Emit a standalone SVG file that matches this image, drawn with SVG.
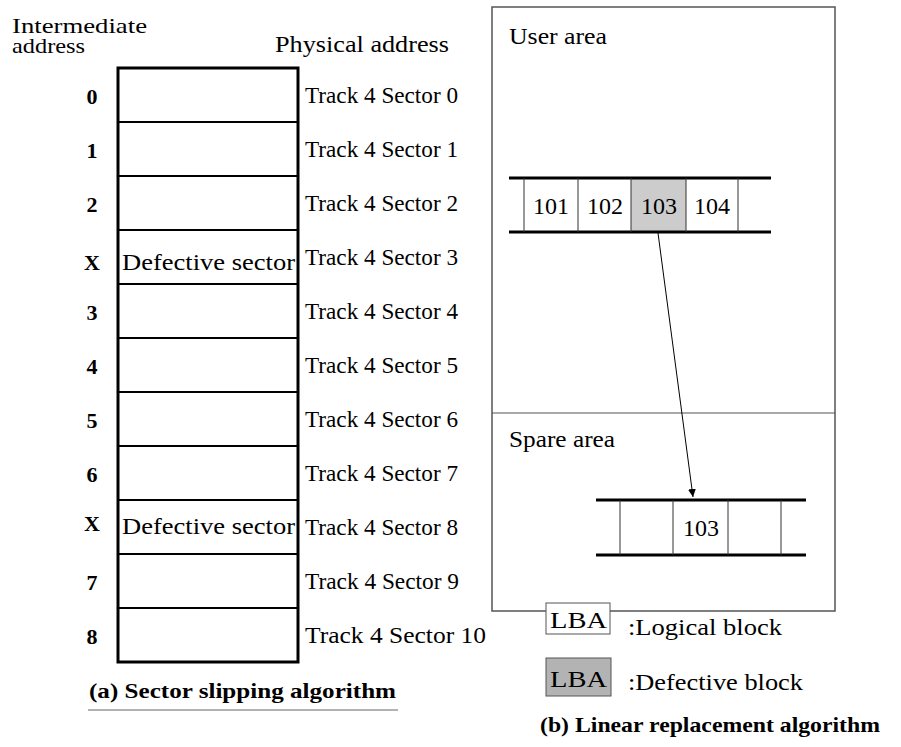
<svg xmlns="http://www.w3.org/2000/svg" width="901" height="747" viewBox="0 0 901 747" font-family="'Liberation Serif', 'Times New Roman', 'DejaVu Serif', serif">
<style>
text{font-family:'Liberation Serif','Times New Roman','DejaVu Serif',serif;fill:#000}
.t{font-size:24px}
.h{font-size:21px}
.b{font-size:22px;font-weight:bold}
.trk{stroke:#000;stroke-width:3}
.div{stroke:#333;stroke-width:1}
</style>
<defs>
<marker id="ah" viewBox="0 0 10 10" refX="10" refY="5" markerWidth="8" markerHeight="11" orient="auto" markerUnits="userSpaceOnUse"><path d="M0,0 L10,5 L0,10 z" fill="#000"/></marker>
</defs>
<g id="left-headers">
<text class="h" x="12" y="33" textLength="135" lengthAdjust="spacingAndGlyphs">Intermediate</text>
<text class="h" x="12" y="53" textLength="73" lengthAdjust="spacingAndGlyphs">address</text>
<text class="t" x="275" y="52" textLength="174" lengthAdjust="spacingAndGlyphs">Physical address</text>
</g>
<g id="sector-table">
<rect x="118" y="68" width="180" height="594" fill="#fff" stroke="#000" stroke-width="3"/>
<g stroke="#000" stroke-width="2">
<line x1="118" y1="122" x2="298" y2="122"/><line x1="118" y1="176" x2="298" y2="176"/>
<line x1="118" y1="230" x2="298" y2="230"/><line x1="118" y1="284" x2="298" y2="284"/>
<line x1="118" y1="338" x2="298" y2="338"/><line x1="118" y1="392" x2="298" y2="392"/>
<line x1="118" y1="446" x2="298" y2="446"/><line x1="118" y1="500" x2="298" y2="500"/>
<line x1="118" y1="554" x2="298" y2="554"/><line x1="118" y1="608" x2="298" y2="608"/>
</g>
<text class="t" x="122" y="270" textLength="173" lengthAdjust="spacingAndGlyphs">Defective sector</text>
<text class="t" x="122" y="534" textLength="173" lengthAdjust="spacingAndGlyphs">Defective sector</text>
</g>
<g id="intermediate-addresses" class="b" text-anchor="middle">
<text x="92" y="104">0</text><text x="92" y="158">1</text><text x="92" y="212">2</text>
<text x="92" y="270">X</text><text x="92" y="320">3</text><text x="92" y="374">4</text>
<text x="92" y="428">5</text><text x="92" y="482">6</text><text x="92" y="531">X</text>
<text x="92" y="590">7</text><text x="92" y="644">8</text>
</g>
<g id="physical-addresses" class="t">
<text x="305" y="103" textLength="153" lengthAdjust="spacingAndGlyphs">Track 4 Sector 0</text>
<text x="305" y="157" textLength="153" lengthAdjust="spacingAndGlyphs">Track 4 Sector 1</text>
<text x="305" y="211" textLength="153" lengthAdjust="spacingAndGlyphs">Track 4 Sector 2</text>
<text x="305" y="265" textLength="153" lengthAdjust="spacingAndGlyphs">Track 4 Sector 3</text>
<text x="305" y="319" textLength="153" lengthAdjust="spacingAndGlyphs">Track 4 Sector 4</text>
<text x="305" y="373" textLength="153" lengthAdjust="spacingAndGlyphs">Track 4 Sector 5</text>
<text x="305" y="427" textLength="153" lengthAdjust="spacingAndGlyphs">Track 4 Sector 6</text>
<text x="305" y="481" textLength="153" lengthAdjust="spacingAndGlyphs">Track 4 Sector 7</text>
<text x="305" y="535" textLength="153" lengthAdjust="spacingAndGlyphs">Track 4 Sector 8</text>
<text x="305" y="589" textLength="154" lengthAdjust="spacingAndGlyphs">Track 4 Sector 9</text>
<text x="305" y="643" textLength="181" lengthAdjust="spacingAndGlyphs">Track 4 Sector 10</text>
</g>
<g id="caption-a">
<text x="89" y="698" font-size="22" font-weight="bold" textLength="307" lengthAdjust="spacingAndGlyphs">(a) Sector slipping algorithm</text>
<line x1="88" y1="710" x2="398" y2="710" stroke="#999" stroke-width="1.5"/>
</g>
<g id="panel-b">
<rect x="492" y="7" width="343" height="604" fill="none" stroke="#555" stroke-width="1.5"/>
<line x1="492" y1="413" x2="835" y2="413" stroke="#555" stroke-width="1.2"/>
<text class="t" x="509" y="44" textLength="98" lengthAdjust="spacingAndGlyphs">User area</text>
<text class="t" x="509" y="447" textLength="106" lengthAdjust="spacingAndGlyphs">Spare area</text>
</g>
<g id="user-track">
<rect x="631" y="178" width="55" height="54" fill="#ccc"/>
<line class="trk" x1="509" y1="178" x2="771" y2="178"/>
<line class="trk" x1="509" y1="232" x2="771" y2="232"/>
<line class="div" x1="524" y1="178" x2="524" y2="232"/><line class="div" x1="578" y1="178" x2="578" y2="232"/>
<line class="div" x1="631" y1="178" x2="631" y2="232"/><line class="div" x1="686" y1="178" x2="686" y2="232"/>
<line class="div" x1="738" y1="178" x2="738" y2="232"/>
<g class="t" text-anchor="middle"><text x="551" y="214">101</text><text x="605" y="214">102</text><text x="659" y="214">103</text><text x="712" y="214">104</text></g>
</g>
<g id="spare-track">
<line class="trk" x1="596" y1="500" x2="806" y2="500"/>
<line class="trk" x1="596" y1="555" x2="806" y2="555"/>
<line class="div" x1="620" y1="500" x2="620" y2="555"/><line class="div" x1="673" y1="500" x2="673" y2="555"/>
<line class="div" x1="728" y1="500" x2="728" y2="555"/><line class="div" x1="781" y1="500" x2="781" y2="555"/>
<text class="t" x="701" y="536" text-anchor="middle">103</text>
</g>
<g id="connectors">
<line x1="658" y1="233" x2="693" y2="497" stroke="#000" stroke-width="1" marker-end="url(#ah)"/>
</g>
<g id="legend">
<rect x="546" y="603" width="64" height="31" fill="#fff" stroke="#555" stroke-width="1"/>
<text class="t" x="550" y="628" textLength="57" lengthAdjust="spacingAndGlyphs">LBA</text>
<text class="t" x="628" y="635" textLength="154" lengthAdjust="spacingAndGlyphs">:Logical block</text>
<rect x="546" y="658" width="65" height="38" fill="#b3b3b3" stroke="#555" stroke-width="1"/>
<text class="t" x="550" y="687" textLength="57" lengthAdjust="spacingAndGlyphs">LBA</text>
<text class="t" x="628" y="690" textLength="175" lengthAdjust="spacingAndGlyphs">:Defective block</text>
</g>
<g id="caption-b">
<text x="540" y="732" font-size="22" font-weight="bold" textLength="340" lengthAdjust="spacingAndGlyphs">(b) Linear replacement algorithm</text>
</g>
</svg>
